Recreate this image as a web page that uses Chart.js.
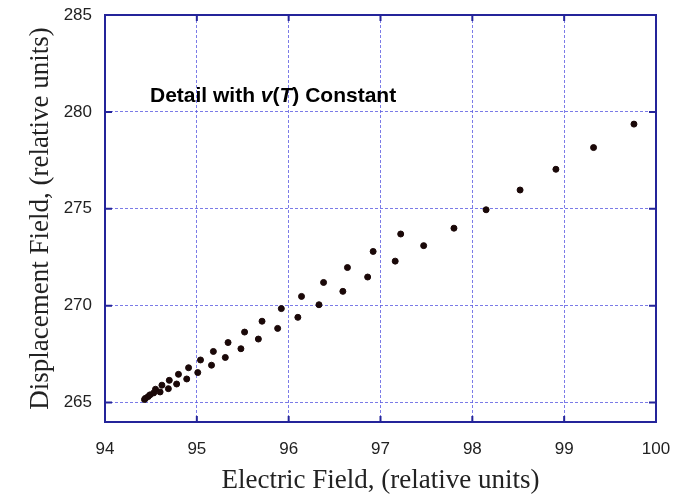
<!DOCTYPE html>
<html lang="en">
  <head>
    <meta charset="UTF-8" />
    <title>Displacement vs Electric Field</title>
    <script src="https://cdn.jsdelivr.net/npm/chart.js@4.4.0/dist/chart.umd.min.js"></script>
    <style>
      body {
        margin: 0;
        background-color: #ffffff;
      }
      #chart {
        display: block;
      }
    </style>
  </head>
  <body>
    <canvas id="chart" width="674" height="497"></canvas>

    <script>
      // upper branch (electric field, displacement field)
      const upperE = [94.55, 94.62, 94.70, 94.80, 94.91, 95.04, 95.18, 95.34, 95.52, 95.71, 95.92, 96.14, 96.38, 96.64, 96.92, 97.22];
      const upperD = [265.69, 265.90, 266.15, 266.46, 266.80, 267.20, 267.64, 268.10, 268.64, 269.20, 269.85, 270.48, 271.20, 271.97, 272.80, 273.70];

      // lower branch, continues up to the top right
      const lowerE = [94.43, 94.44, 94.47, 94.49, 94.53, 94.60, 94.69, 94.78, 94.89, 95.01, 95.16, 95.31, 95.48, 95.67, 95.88, 96.10, 96.33, 96.59, 96.86, 97.16, 97.47, 97.80, 98.15, 98.52, 98.91, 99.32, 99.76];
      const lowerD = [265.16, 265.22, 265.31, 265.40, 265.50, 265.55, 265.72, 265.96, 266.22, 266.55, 266.93, 267.33, 267.78, 268.28, 268.83, 269.40, 270.05, 270.74, 271.48, 272.30, 273.10, 274.00, 274.95, 275.97, 277.04, 278.16, 279.37];

      const xTicks = [94, 95, 96, 97, 98, 99, 100];
      const yTicks = [265, 270, 275, 280, 285];

      const pts = (xs, ys) => xs.map((x, i) => ({ x: x, y: ys[i] }));

      const frameColor = "#24249a";
      const gridColor = "rgba(90, 90, 225, 0.8)";

      // frame, inward tick marks and the note inside the plot
      const framePlugin = {
        id: "frame",
        afterDraw(chart) {
          const ctx = chart.ctx;
          const a = chart.chartArea;
          const xs = chart.scales.x;
          const ys = chart.scales.y;
          ctx.save();
          ctx.strokeStyle = frameColor;
          ctx.lineWidth = 2;
          ctx.strokeRect(a.left, a.top, a.right - a.left, a.bottom - a.top);

          ctx.beginPath();
          xTicks.forEach((v) => {
            const px = xs.getPixelForValue(v);
            ctx.moveTo(px, a.top);
            ctx.lineTo(px, a.top + 6);
            ctx.moveTo(px, a.bottom);
            ctx.lineTo(px, a.bottom - 6);
          });
          yTicks.forEach((v) => {
            const py = ys.getPixelForValue(v);
            ctx.moveTo(a.left, py);
            ctx.lineTo(a.left + 7, py);
            ctx.moveTo(a.right, py);
            ctx.lineTo(a.right - 7, py);
          });
          ctx.stroke();

          // "Detail with v(T) Constant"
          const parts = [
            ["Detail with ", "bold"],
            ["v", "italic bold"],
            ["(", "bold"],
            ["T", "italic bold"],
            [") Constant", "bold"],
          ];
          let x = 150;
          ctx.fillStyle = "#000";
          ctx.textBaseline = "alphabetic";
          ctx.textAlign = "left";
          parts.forEach(([t, style]) => {
            ctx.font = style + " 21px 'Liberation Sans', Arial, sans-serif";
            ctx.fillText(t, x, 102);
            x += ctx.measureText(t).width;
          });
          ctx.restore();
        },
      };

      new Chart(document.getElementById("chart"), {
        type: "scatter",
        data: {
          datasets: [
            {
              label: "upper",
              data: pts(upperE, upperD),
              backgroundColor: "#1a0808",
              borderColor: "#1a0808",
              pointRadius: 3,
            },
            {
              label: "lower",
              data: pts(lowerE, lowerD),
              backgroundColor: "#1a0808",
              borderColor: "#1a0808",
              pointRadius: 3,
            },
          ],
        },
        options: {
          responsive: false,
          animation: false,
          layout: {
            padding: { left: 0, top: 15, right: 18, bottom: 0 },
          },
          plugins: {
            legend: { display: false },
            tooltip: { enabled: false },
          },
          scales: {
            x: {
              type: "linear",
              min: 94,
              max: 100,
              afterBuildTicks: (s) => {
                s.ticks = xTicks.map((v) => ({ value: v }));
              },
              afterFit: (s) => {
                s.height = 75;
                s.paddingLeft = 0;
                s.paddingRight = 0;
              },
              grid: {
                color: gridColor,
                lineWidth: 1,
                drawTicks: false,
              },
              border: { display: false, dash: [3, 2] },
              ticks: {
                padding: 17,
                maxRotation: 0,
                color: "#222",
                font: { family: "'Liberation Sans', Arial, sans-serif", size: 17 },
              },
              title: {
                display: true,
                text: "Electric Field, (relative units)",
                color: "#222",
                padding: { top: 0, bottom: 0 },
                font: { family: "'Liberation Serif', 'Times New Roman', serif", size: 27 },
              },
            },
            y: {
              type: "linear",
              min: 264,
              max: 285,
              afterBuildTicks: (s) => {
                s.ticks = yTicks.map((v) => ({ value: v }));
              },
              afterFit: (s) => {
                s.width = 105;
                s.paddingTop = 0;
                s.paddingBottom = 0;
              },
              grid: {
                color: gridColor,
                lineWidth: 1,
                drawTicks: false,
              },
              border: { display: false, dash: [3, 2] },
              ticks: {
                padding: 13,
                color: "#222",
                font: { family: "'Liberation Sans', Arial, sans-serif", size: 17 },
              },
              title: {
                display: true,
                text: "Displacement Field, (relative units)",
                color: "#222",
                padding: { top: 25, bottom: 0 },
                font: { family: "'Liberation Serif', 'Times New Roman', serif", size: 27 },
              },
            },
          },
        },
        plugins: [framePlugin],
      });
    </script>
  </body>
</html>
